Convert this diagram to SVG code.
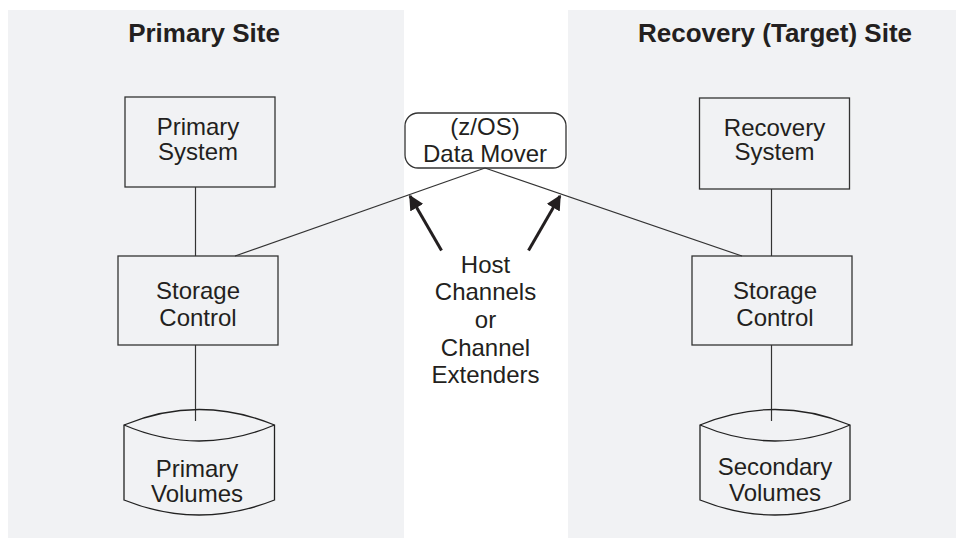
<svg xmlns="http://www.w3.org/2000/svg" width="956" height="538" viewBox="0 0 956 538">
<defs>
<style>
.panel{fill:#f1f2f4;stroke:none}
.box{fill:none;stroke:#333;stroke-width:1.3}
.cyl{fill:none;stroke:#222;stroke-width:1.3}
.conn{fill:none;stroke:#333;stroke-width:1.2}
.arrow{fill:none;stroke:#231f20;stroke-width:3}
.t{font-family:"Liberation Sans",Arial,sans-serif;font-size:24px;fill:#231f20;text-anchor:middle}
.title{font-family:"Liberation Sans",Arial,sans-serif;font-size:26px;font-weight:bold;fill:#231f20;text-anchor:middle}
</style>
<marker id="ah" viewBox="0 0 10 10" refX="9" refY="5" markerWidth="5" markerHeight="5" orient="auto" markerUnits="strokeWidth">
<path d="M0,0 L10,5 L0,10 Z" fill="#231f20"/>
</marker>
</defs>
<rect width="956" height="538" fill="#ffffff"/>
<g id="primary-site">
<rect class="panel" x="8" y="10" width="396" height="528"/>
<text class="title" x="204" y="42">Primary Site</text>
</g>
<g id="recovery-site">
<rect class="panel" x="568" y="10" width="388" height="528"/>
<text class="title" x="775" y="42">Recovery (Target) Site</text>
</g>
<g id="connectors">
<line class="conn" x1="195.5" y1="187" x2="195.5" y2="256"/>
<line class="conn" x1="195.5" y1="345" x2="195.5" y2="421"/>
<line class="conn" x1="771.5" y1="189" x2="771.5" y2="256"/>
<line class="conn" x1="771.5" y1="345" x2="771.5" y2="421"/>
<line class="conn" x1="485" y1="168" x2="235" y2="256"/>
<line class="conn" x1="485" y1="168" x2="742" y2="256"/>
<line class="arrow" x1="441.5" y1="250.5" x2="410" y2="196" marker-end="url(#ah)"/>
<line class="arrow" x1="528.5" y1="250.5" x2="560" y2="196" marker-end="url(#ah)"/>
</g>
<g id="primary-system">
<rect class="box" x="125" y="97" width="150" height="90"/>
<text class="t" x="198" y="135">Primary</text>
<text class="t" x="198" y="159.5">System</text>
</g>
<g id="storage-control-primary">
<rect class="box" x="118" y="256" width="160" height="89"/>
<text class="t" x="198" y="298.5">Storage</text>
<text class="t" x="198" y="326">Control</text>
</g>
<g id="primary-volumes">
<path class="cyl" d="M124,425 Q199,394 274.5,425 L274.5,500 Q199,530 124,500 Z"/>
<path class="cyl" d="M124,425 Q199,457 274.5,425"/>
<text class="t" x="197" y="476.5">Primary</text>
<text class="t" x="197" y="501.5">Volumes</text>
</g>
<g id="data-mover">
<rect class="box" x="405" y="113" width="161" height="55" rx="13" ry="13" fill="#ffffff"/>
<text class="t" x="485" y="135">(z/OS)</text>
<text class="t" x="485" y="161.5">Data Mover</text>
</g>
<g id="host-channels-label">
<text class="t" x="485.5" y="272.5">Host</text>
<text class="t" x="485.5" y="300">Channels</text>
<text class="t" x="485.5" y="328">or</text>
<text class="t" x="485.5" y="355.5">Channel</text>
<text class="t" x="485.5" y="383">Extenders</text>
</g>
<g id="recovery-system">
<rect class="box" x="699.5" y="98" width="150" height="91"/>
<text class="t" x="774.5" y="136">Recovery</text>
<text class="t" x="774.5" y="160">System</text>
</g>
<g id="storage-control-recovery">
<rect class="box" x="692" y="256" width="160" height="89"/>
<text class="t" x="775" y="298.5">Storage</text>
<text class="t" x="775" y="326">Control</text>
</g>
<g id="secondary-volumes">
<path class="cyl" d="M700,425 Q775,394 850,425 L850,500 Q775,530 700,500 Z"/>
<path class="cyl" d="M700,425 Q775,457 850,425"/>
<text class="t" x="775" y="475">Secondary</text>
<text class="t" x="775" y="500.5">Volumes</text>
</g>
</svg>
